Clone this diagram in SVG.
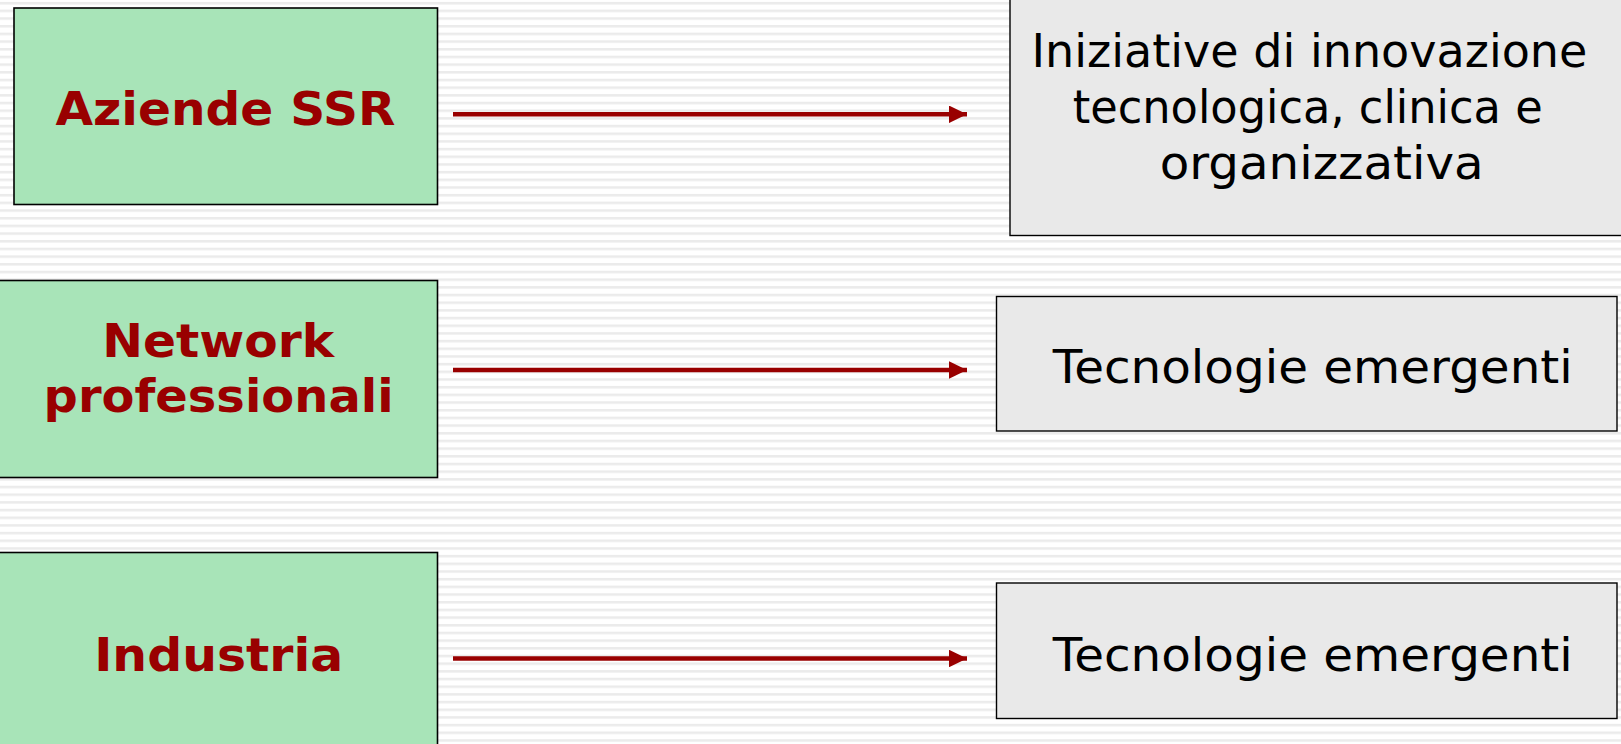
<svg xmlns="http://www.w3.org/2000/svg" width="1621" height="744" viewBox="0 0 1621 744">
<style>
.src rect{fill:#a8e4b8;stroke:#000;stroke-width:1.6}
.dst rect{fill:#e9e9e9;stroke:#000;stroke-width:1.4}
.src text{font-family:"DejaVu Sans",Verdana,sans-serif;font-weight:bold;font-size:47px;fill:#990000;text-anchor:middle}
.dst text{font-family:"DejaVu Sans",Verdana,sans-serif;font-size:47px;fill:#000;text-anchor:middle}
.conn line{stroke:#990000;stroke-width:4.5}
</style>
<defs>
<pattern id="stripes" patternUnits="userSpaceOnUse" width="40" height="7.68">
<rect x="0" y="2.3" width="40" height="1.2" fill="#dedede"/>
<rect x="0" y="3.5" width="40" height="1" fill="#ececec"/>
</pattern>
<marker id="ah" viewBox="0 0 10 10" refX="10" refY="5" markerWidth="18" markerHeight="17.5" markerUnits="userSpaceOnUse" orient="auto" preserveAspectRatio="none">
<path d="M0,0 L10,5 L0,10 Z" fill="#990000"/>
</marker>
</defs>
<rect width="1621" height="744" fill="#ffffff"/>
<rect width="1621" height="744" fill="url(#stripes)"/>
<g id="connectors" class="conn">
<line x1="453" y1="114.3" x2="967" y2="114.3" marker-end="url(#ah)"/>
<line x1="453" y1="370" x2="967" y2="370" marker-end="url(#ah)"/>
<line x1="453" y1="658.5" x2="967" y2="658.5" marker-end="url(#ah)"/>
</g>
<g id="aziende" class="src">
<rect x="14" y="8" width="423.5" height="196.5"/>
<text x="225.4" y="125.3" textLength="340" lengthAdjust="spacingAndGlyphs">Aziende SSR</text>
</g>
<g id="network" class="src">
<rect x="-2" y="280.5" width="439.5" height="197"/>
<text x="218.2" y="356.7" textLength="232" lengthAdjust="spacingAndGlyphs">Network</text>
<text x="218.6" y="412.3" textLength="350" lengthAdjust="spacingAndGlyphs">professionali</text>
</g>
<g id="industria" class="src">
<rect x="-2" y="552.5" width="439.5" height="200"/>
<text x="218.7" y="671" textLength="249" lengthAdjust="spacingAndGlyphs">Industria</text>
</g>
<g id="iniziative" class="dst">
<rect x="1010" y="-5" width="620" height="240.5"/>
<text x="1309.4" y="66.7" textLength="556" lengthAdjust="spacingAndGlyphs">Iniziative di innovazione</text>
<text x="1307.7" y="122.6" textLength="470" lengthAdjust="spacingAndGlyphs">tecnologica, clinica e</text>
<text x="1321.7" y="179.3" textLength="324" lengthAdjust="spacingAndGlyphs">organizzativa</text>
</g>
<g id="tecnologie1" class="dst">
<rect x="996.5" y="296.5" width="620.5" height="134.5"/>
<text x="1312.8" y="383.3" textLength="520" lengthAdjust="spacingAndGlyphs">Tecnologie emergenti</text>
</g>
<g id="tecnologie2" class="dst">
<rect x="996.5" y="583" width="620.5" height="135.5"/>
<text x="1312.8" y="670.5" textLength="520" lengthAdjust="spacingAndGlyphs">Tecnologie emergenti</text>
</g>
</svg>
